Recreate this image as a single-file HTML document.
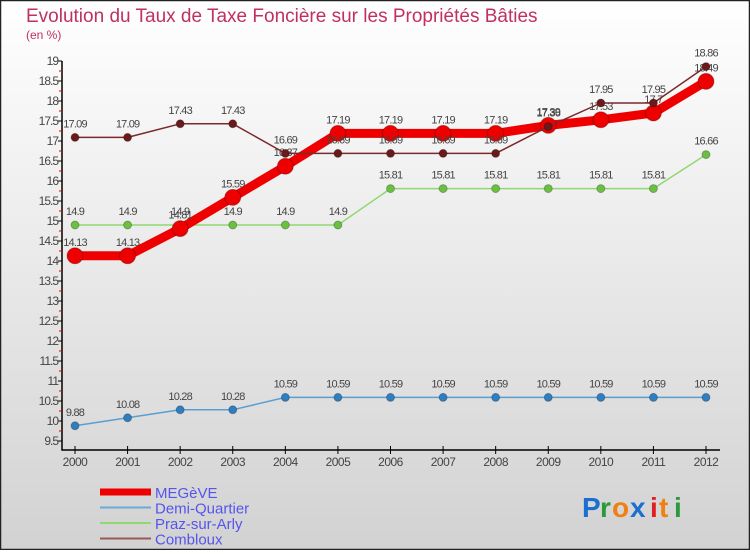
<!DOCTYPE html>
<html><head><meta charset="utf-8"><style>
html,body{margin:0;padding:0}
body{width:750px;height:550px;overflow:hidden;font-family:"Liberation Sans",sans-serif}
svg text{font-family:"Liberation Sans",sans-serif}
</style></head><body>
<svg id="chart" width="750" height="550" xmlns="http://www.w3.org/2000/svg">
<defs><linearGradient id="bg" x1="0" y1="0" x2="0" y2="1"><stop offset="0" stop-color="#ffffff"/><stop offset="1" stop-color="#d2d2d2"/></linearGradient></defs>
<rect x="0.5" y="0.5" width="749" height="549" fill="url(#bg)" stroke="#222" stroke-width="1.5"/>
<text x="26" y="22" font-size="19" fill="#c03060">Evolution du Taux de Taxe Foncière sur les Propriétés Bâties</text>
<text x="26" y="39" font-size="12" fill="#c03060">(en %)</text>
<g id="axes"></g><g id="series"></g><g id="legend"></g>
<g font-size="28" font-weight="bold">
<text x="582" y="517" fill="#1a6fd0">P</text><text x="600" y="517" fill="#2a9a3a">r</text><text x="612" y="517" fill="#f08010">o</text><text x="630" y="517" fill="#1a6fd0">x</text><text x="650" y="517" fill="#e02020">i</text><text x="659" y="517" fill="#f08010">t</text><text x="674" y="517" fill="#2a9a3a">i</text>
</g>
</svg>
<script>
const years=[2000,2001,2002,2003,2004,2005,2006,2007,2008,2009,2010,2011,2012];
const yTicks=[9.5,10,10.5,11,11.5,12,12.5,13,13.5,14,14.5,15,15.5,16,16.5,17,17.5,18,18.5,19];
const megeve=[14.13,14.13,14.81,15.59,16.37,17.19,17.19,17.19,17.19,17.39,17.53,17.7,18.49];
const demiQuartier=[9.88,10.08,10.28,10.28,10.59,10.59,10.59,10.59,10.59,10.59,10.59,10.59,10.59];
const prazSurArly=[14.9,14.9,14.9,14.9,14.9,14.9,15.81,15.81,15.81,15.81,15.81,15.81,16.66];
const combloux=[17.09,17.09,17.43,17.43,16.69,16.69,16.69,16.69,16.69,17.36,17.95,17.95,18.86];
const seriesNames=["MEGèVE","Demi-Quartier","Praz-sur-Arly","Combloux"];

const NS="http://www.w3.org/2000/svg";
const xS=i=>75+i*(706-75)/12;
const yS=v=>61+(19-v)*40;
function mk(tag,attrs,parent){const e=document.createElementNS(NS,tag);for(const k in attrs)e.setAttribute(k,attrs[k]);parent.appendChild(e);return e;}
const axes=document.getElementById('axes');
const ax=mk('path',{d:`M62 ${yS(19)} V450 H720`,stroke:'#000','stroke-width':1.5,fill:'none'},axes);


for(let v=9.5;v<=19.001;v+=0.25){
  const major=Math.abs(v*2-Math.round(v*2))<1e-6;
  const t=mk('line',{x1:major?58:59,x2:62,y1:yS(v),y2:yS(v),stroke:major?'#000':'#e00000','stroke-width':1},axes);
  
  
}
yTicks.forEach(v=>{
  const t=mk('text',{x:58,y:yS(v)+4,'font-size':12,'text-anchor':'end',fill:'#444','letter-spacing':'-1'},axes);
  t.textContent=String(v);
  
  
});
years.forEach((yr,i)=>{
  const tk=mk('line',{x1:xS(i),x2:xS(i),y1:446,y2:454,stroke:'#000'},axes);
  
  
  const t=mk('text',{x:xS(i),y:466,'font-size':12,'text-anchor':'middle',fill:'#444','letter-spacing':'-0.5'},axes);
  t.textContent=String(yr);
  
  
});
const series=document.getElementById('series');
const defs=[
 {data:demiQuartier,color:'#5a9fd0',dot:'#2e7ec0',w:1.5,r:4,name:'demi-quartier'},
 {data:prazSurArly,color:'#90d870',dot:'#6ac040',w:1.5,r:4,name:'praz-sur-arly'},
 {data:megeve,color:'#ee0000',dot:'#ee0000',w:9,r:8,name:'megeve'},
 {data:combloux,color:'#7a2a2a',dot:'#6a1a1a',w:1.5,r:4,name:'combloux'}
];
defs.forEach(s=>{
  const g=mk('g',{},series);
  
  
  const pl=mk('polyline',{points:s.data.map((v,i)=>xS(i)+','+yS(v)).join(' '),stroke:s.color,'stroke-width':s.w,fill:'none','stroke-linejoin':'round'},g);
  
  
  s.data.forEach((v,i)=>{
    const c=mk('circle',{cx:xS(i),cy:yS(v),r:s.r,fill:s.dot,stroke:'rgba(0,0,0,0.25)','stroke-width':1},g);
    
    
    const t=mk('text',{x:xS(i),y:yS(v)-10,'font-size':11,'text-anchor':'middle',fill:'#444','letter-spacing':'-0.8'},g);
    t.textContent=String(v);
    
    
  });
});
const legend=document.getElementById('legend');
const lg=[['#ee0000',7],['#6aaad8',2],['#90d870',2],['#9a5a5a',2]];
seriesNames.forEach((n,i)=>{
  const y=492+i*15.5;
  const g=mk('g',{},legend);
  
  
  mk('line',{x1:100,x2:151,y1:y,y2:y,stroke:lg[i][0],'stroke-width':lg[i][1]},g);
  const t=mk('text',{x:155,y:y+6,'font-size':15,fill:'#5555ee'},g);
  t.textContent=n;
});
</script>
</body></html>
